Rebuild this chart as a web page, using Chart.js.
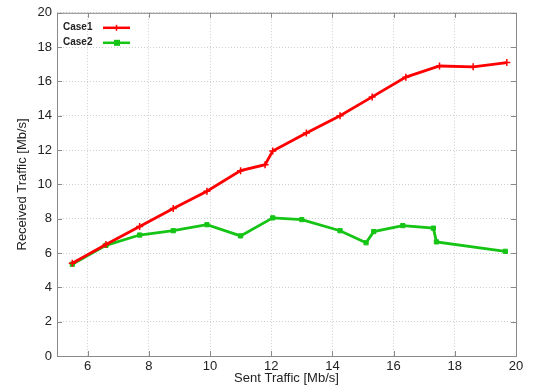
<!DOCTYPE html>
<html>
<head>
<meta charset="utf-8">
<script src="https://cdn.jsdelivr.net/npm/chart.js@4"></script>
<style>
  body { margin: 0; background: #fff; }
  #wrap { width: 536px; height: 390px; }
</style>
</head>
<body>
<div id="wrap"><canvas id="chart"></canvas></div>
<script>
// values
var case1X = [5.5, 6.6, 7.7, 8.8, 9.9, 11.0, 11.8, 12.05, 13.15, 14.25, 15.3, 16.4, 17.5, 18.6, 19.7];
var case1Y = [5.4, 6.5, 7.55, 8.6, 9.6, 10.8, 11.15, 11.95, 13.0, 14.0, 15.1, 16.25, 16.9, 16.85, 17.1];
var case2X = [5.5, 6.6, 7.7, 8.8, 9.9, 11.0, 12.05, 13.0, 14.25, 15.1, 15.35, 16.3, 17.3, 17.4, 19.65];
var case2Y = [5.35, 6.45, 7.05, 7.3, 7.65, 7.0, 8.05, 7.95, 7.3, 6.6, 7.25, 7.6, 7.45, 6.65, 6.1];
var xTicks = [6, 8, 10, 12, 14, 16, 18, 20];
var yTicks = [0, 2, 4, 6, 8, 10, 12, 14, 16, 18, 20];

var red = '#ff0000';
var green = 'rgb(22,196,22)';
var font = '"Liberation Sans", Arial, sans-serif';

function pts(xs, ys) {
  return xs.map(function (x, i) { return { x: x, y: ys[i] }; });
}

// box, inward tick marks and the legend, matlab style
var framePlugin = {
  id: 'frame',
  afterDraw: function (chart) {
    var c = chart.ctx, a = chart.chartArea;
    var sx = chart.scales.x, sy = chart.scales.y;
    c.save();
    c.strokeStyle = '#8a8a8a';
    c.lineWidth = 1;
    c.strokeRect(a.left + 0.5, a.top + 0.5, a.right - a.left, a.bottom - a.top);
    c.beginPath();
    xTicks.forEach(function (v) {
      var px = Math.round(sx.getPixelForValue(v)) + 0.5;
      c.moveTo(px, a.bottom); c.lineTo(px, a.bottom - 5);
      c.moveTo(px, a.top); c.lineTo(px, a.top + 5);
    });
    yTicks.forEach(function (v) {
      var py = Math.round(sy.getPixelForValue(v)) + 0.5;
      c.moveTo(a.left, py); c.lineTo(a.left + 5, py);
      c.moveTo(a.right, py); c.lineTo(a.right - 5, py);
    });
    c.stroke();

    // legend
    var items = [['Case1', red, 'cross'], ['Case2', green, 'rect']];
    c.font = 'bold 10px ' + font;
    c.textBaseline = 'middle';
    c.textAlign = 'left';
    items.forEach(function (it, i) {
      var y = a.top + 14 + i * 15;
      c.fillStyle = '#222';
      c.fillText(it[0], a.left + 6, y);
      c.strokeStyle = it[1];
      c.lineWidth = 2.5;
      c.beginPath();
      c.moveTo(a.left + 46, y + 1); c.lineTo(a.left + 73, y + 1);
      c.stroke();
      if (it[2] === 'cross') {
        c.lineWidth = 1.5;
        c.beginPath();
        c.moveTo(a.left + 59.5, y - 2); c.lineTo(a.left + 59.5, y + 4);
        c.stroke();
      } else {
        c.fillStyle = it[1];
        c.fillRect(a.left + 57, y - 2, 6, 6);
      }
    });
    c.restore();
  }
};

new Chart(document.getElementById('chart'), {
  type: 'line',
  data: {
    datasets: [{
      label: 'Case1',
      data: pts(case1X, case1Y),
      borderColor: red,
      backgroundColor: red,
      borderWidth: 2.8,
      pointStyle: 'cross',
      pointRadius: 3.5,
      pointBorderWidth: 1.5,
      tension: 0
    }, {
      label: 'Case2',
      data: pts(case2X, case2Y),
      borderColor: green,
      backgroundColor: green,
      borderWidth: 2.8,
      pointStyle: 'rect',
      pointRadius: 3,
      pointBorderWidth: 1,
      tension: 0
    }]
  },
  options: {
    responsive: true,
    maintainAspectRatio: false,
    animation: false,
    layout: { padding: { top: 10, right: 20, left: 15, bottom: 4 } },
    plugins: {
      legend: { display: false },
      tooltip: { enabled: false }
    },
    scales: {
      x: {
        type: 'linear',
        min: 5,
        max: 20,
        afterBuildTicks: function (s) { s.ticks = xTicks.map(function (v) { return { value: v }; }); },
        afterFit: function (s) { s.height = 30; },
        grid: { color: '#cfcfcf', drawTicks: false },
        border: { display: false, dash: [1, 2] },
        ticks: { color: '#222', padding: 3, font: { family: font, size: 13 } },
        title: {
          display: true,
          text: 'Sent Traffic [Mb/s]',
          color: '#222',
          padding: 0,
          font: { family: font, size: 13 }
        }
      },
      y: {
        min: 0,
        max: 20,
        afterBuildTicks: function (s) { s.ticks = yTicks.map(function (v) { return { value: v }; }); },
        afterFit: function (s) { s.width = 42; },
        grid: { color: '#cfcfcf', drawTicks: false },
        border: { display: false, dash: [1, 2] },
        ticks: { color: '#222', padding: 5, font: { family: font, size: 13 } },
        title: {
          display: true,
          text: 'Received Traffic [Mb/s]',
          color: '#222',
          padding: 0,
          font: { family: font, size: 13 }
        }
      }
    }
  },
  plugins: [framePlugin]
});
</script>
</body>
</html>
